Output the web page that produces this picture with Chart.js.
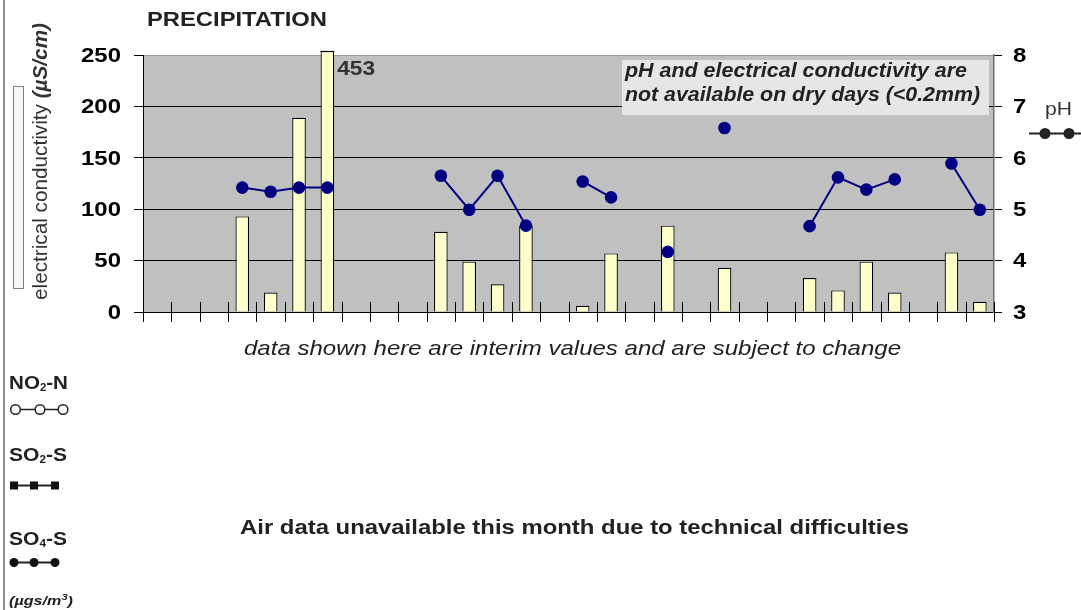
<!DOCTYPE html>
<html><head><meta charset="utf-8">
<script src="https://cdn.jsdelivr.net/npm/chart.js@4.4.0/dist/chart.umd.min.js"></script>
<style>html,body{margin:0;padding:0;background:#fff;}#wrap{position:relative;width:1081px;height:610px;}</style>
</head><body><div id="wrap"><canvas id="c" width="1081" height="610"></canvas></div>
<script>
// ---- data ----
const days = ['1','2','3','4','5','6','7','8','9','10','11','12','13','14','15','16','17','18','19','20','21','22','23','24','25','26','27','28','29','30'];
const conductivity = [null,null,null,93,19,189,453,null,null,null,78,49,27,84,null,6,57,null,84,null,43,null,null,33,21,49,19,null,58,10];
const pH = [null,null,null,5.42,5.34,5.42,5.42,null,null,null,5.65,4.99,5.65,4.68,null,5.54,5.23,null,4.17,null,6.58,null,null,4.67,5.62,5.38,5.58,null,5.89,4.99];
const ecTicks = [0,50,100,150,200,250];
const phTicks = [3,4,5,6,7,8];
const titleText = 'PRECIPITATION';
const ecTitle = ['electrical conductivity ', '(\u00b5S/cm)'];
const noteLines = ['pH and electrical conductivity are', 'not available on dry days (<0.2mm)'];
const interimText = 'data shown here are interim values and are subject to change';
const airText = 'Air data unavailable this month due to technical difficulties';

const FF = '"Liberation Sans", Arial, sans-serif';
const SX = 1.14;

function drawText(ctx, s, x, y, font, color, align, targetW) {
  ctx.save(); ctx.font = font; ctx.fillStyle = color; ctx.textBaseline = 'middle'; ctx.textAlign = 'left';
  const w = ctx.measureText(s).width; const k = targetW ? targetW / w : SX; const W = w * k;
  const left = align === 'center' ? x - W / 2 : align === 'right' ? x - W : x;
  ctx.translate(left, y); ctx.scale(k, 1); ctx.fillText(s, 0, 0); ctx.restore();
}
function drawRich(ctx, segs, x, y, color, targetW) {
  ctx.save(); ctx.fillStyle = color; ctx.textBaseline = 'middle'; ctx.textAlign = 'left';
  let w = 0; segs.forEach(s => { ctx.font = s.font; s.w = ctx.measureText(s.t).width; w += s.w; });
  const k = targetW ? targetW / w : SX;
  ctx.translate(x, y); ctx.scale(k, 1);
  let cx = 0; segs.forEach(s => { ctx.font = s.font; ctx.fillText(s.t, cx, s.dy || 0); cx += s.w; });
  ctx.restore();
}

const decor = {
  id: 'decor',
  beforeDraw(chart) {
    const {ctx, chartArea: a} = chart;
    ctx.save(); ctx.fillStyle = '#c0c0c0'; ctx.fillRect(a.left, a.top, a.right - a.left, a.bottom - a.top); ctx.restore();
  },
  afterDatasetsDraw(chart) {
    const {ctx, chartArea: a} = chart;
    const ys = chart.scales.y, xs = chart.scales.x;
    const meta = chart.getDatasetMeta(0);
    ctx.save();
    meta.data.forEach((bar, i) => {
      const v = conductivity[i];
      if (v != null && v > ys.max) {
        ctx.strokeStyle = '#000'; ctx.lineWidth = 1.2;
        ctx.beginPath(); ctx.moveTo(bar.x - bar.width / 2, a.top - 3.5); ctx.lineTo(bar.x + bar.width / 2, a.top - 3.5); ctx.stroke();
        drawText(ctx, String(v), bar.x + bar.width / 2 + 3, a.top + 14, 'bold 20px ' + FF, '#333', 'left', 38);
      }
    });
    const half = (xs.getPixelForValue(1) - xs.getPixelForValue(0)) / 2;
    ctx.strokeStyle = '#000'; ctx.lineWidth = 1;
    for (let i = 0; i <= days.length; i++) {
      const x = Math.round(xs.getPixelForValue(i) - half) + 0.5;
      ctx.beginPath(); ctx.moveTo(x, a.bottom - 10); ctx.lineTo(x, a.bottom + 10); ctx.stroke();
    }
    ctx.restore();
  },
  afterDraw(chart) {
    const {ctx} = chart;
    const ys = chart.scales.y, y1 = chart.scales.y1;
    ys.ticks.forEach(t => drawText(ctx, String(t.value), 121, ys.getPixelForValue(t.value) + 1, 'bold 21px ' + FF, '#000', 'right'));
    y1.ticks.forEach(t => drawText(ctx, String(t.value), 1013, y1.getPixelForValue(t.value) + 1, 'bold 21px ' + FF, '#000', 'left'));
    drawText(ctx, titleText, 147, 20, 'bold 20px ' + FF, '#222', 'left', 180);
    ctx.save(); ctx.translate(47, 161.5); ctx.rotate(-Math.PI / 2);
    ctx.font = '20px ' + FF; const w1 = ctx.measureText(ecTitle[0]).width;
    ctx.font = 'italic bold 20px ' + FF; const w2 = ctx.measureText(ecTitle[1]).width;
    const k = 277 / (w1 + w2);
    ctx.scale(k, 1); ctx.fillStyle = '#333'; ctx.textBaseline = 'alphabetic'; ctx.textAlign = 'left';
    const st = -(w1 + w2) / 2;
    ctx.font = '20px ' + FF; ctx.fillText(ecTitle[0], st, 0);
    ctx.font = 'italic bold 20px ' + FF; ctx.fillText(ecTitle[1], st + w1, 0);
    ctx.restore();
    ctx.save(); ctx.fillStyle = '#f6f6f6'; ctx.strokeStyle = '#808080'; ctx.lineWidth = 1;
    ctx.fillRect(13.5, 86.5, 10, 202); ctx.strokeRect(13.5, 86.5, 10, 202); ctx.restore();
    ctx.save(); ctx.strokeStyle = '#444'; ctx.lineWidth = 1.2; ctx.beginPath(); ctx.moveTo(4, 0); ctx.lineTo(4, 610); ctx.stroke(); ctx.restore();
    ctx.save(); ctx.fillStyle = '#e6e6e8'; ctx.fillRect(622, 60, 367, 55); ctx.restore();
    drawText(ctx, noteLines[0], 625, 71, 'italic bold 20px ' + FF, '#222', 'left', 342);
    drawText(ctx, noteLines[1], 625, 95, 'italic bold 20px ' + FF, '#222', 'left', 355);
    drawText(ctx, 'pH', 1045, 110, '19px ' + FF, '#333', 'left', 27);
    ctx.save(); ctx.strokeStyle = '#222'; ctx.fillStyle = '#222'; ctx.lineWidth = 2;
    ctx.beginPath(); ctx.moveTo(1029, 133.5); ctx.lineTo(1081, 133.5); ctx.stroke();
    [1045, 1069].forEach(cx => { ctx.beginPath(); ctx.arc(cx, 133.5, 5.5, 0, Math.PI * 2); ctx.fill(); });
    ctx.restore();
    drawText(ctx, interimText, 572.5, 349, 'italic 21px ' + FF, '#222', 'center', 657);
    drawText(ctx, airText, 574.5, 528, 'bold 20px ' + FF, '#222', 'center', 669);
    const B = 'bold 18px ' + FF, S = 'bold 10px ' + FF;
    drawRich(ctx, [{t: 'NO', font: B}, {t: '2', font: S, dy: 4}, {t: '-N', font: B}], 9, 384, '#222', 59);
    drawRich(ctx, [{t: 'SO', font: B}, {t: '2', font: S, dy: 4}, {t: '-S', font: B}], 9, 456, '#222', 58);
    drawRich(ctx, [{t: 'SO', font: B}, {t: '4', font: S, dy: 4}, {t: '-S', font: B}], 9, 540, '#222', 58);
    drawRich(ctx, [{t: '(\u00b5gs/m', font: 'italic bold 13px ' + FF}, {t: '3', font: 'italic bold 9px ' + FF, dy: -3}, {t: ')', font: 'italic bold 13px ' + FF}], 9, 601, '#222', 64);
    ctx.save(); ctx.strokeStyle = '#222'; ctx.lineWidth = 1.5;
    ctx.beginPath(); ctx.moveTo(16, 409.5); ctx.lineTo(62, 409.5); ctx.stroke();
    ctx.fillStyle = '#fff';
    [15.5, 40, 63].forEach(cx => { ctx.beginPath(); ctx.arc(cx, 409.5, 4.8, 0, Math.PI * 2); ctx.fill(); ctx.stroke(); });
    ctx.fillStyle = '#111'; ctx.lineWidth = 2;
    ctx.beginPath(); ctx.moveTo(12, 485.5); ctx.lineTo(56, 485.5); ctx.stroke();
    [14, 34, 55].forEach(cx => ctx.fillRect(cx - 4, 481.5, 8, 8));
    ctx.beginPath(); ctx.moveTo(12, 562.5); ctx.lineTo(56, 562.5); ctx.stroke();
    [14, 34, 55].forEach(cx => { ctx.beginPath(); ctx.arc(cx, 562.5, 4.5, 0, Math.PI * 2); ctx.fill(); });
    ctx.restore();
  }
};

new Chart(document.getElementById('c'), {
  data: {
    labels: days,
    datasets: [
      { type: 'bar', data: conductivity, yAxisID: 'y', order: 2,
        backgroundColor: '#ffffcc', borderColor: '#000', borderWidth: 1.2,
        barPercentage: 0.48, categoryPercentage: 1.0,
        clip: {left: 0, top: 4, right: 0, bottom: 0} },
      { type: 'line', data: pH, yAxisID: 'y1', order: 1, spanGaps: false,
        borderColor: '#000080', borderWidth: 2, tension: 0,
        pointRadius: 6.3, pointBackgroundColor: '#000080', pointBorderWidth: 0, pointHoverRadius: 6.3 }
    ]
  },
  options: {
    responsive: false, animation: false, devicePixelRatio: 1,
    layout: { padding: { left: 143, right: 1081 - 994, top: 55, bottom: 610 - 312 } },
    plugins: { legend: { display: false }, tooltip: { enabled: false } },
    events: [],
    scales: {
      x: { type: 'category', display: false, offset: true },
      y: { position: 'left', min: 0, max: 250,
        afterBuildTicks: s => { s.ticks = ecTicks.map(v => ({value: v})); },
        afterFit: s => { s.width = 0; },
        ticks: { display: false },
        grid: { color: c => (c.tick && c.tick.value === 250) ? '#9a9a9a' : '#000', tickColor: '#000', tickLength: 9, lineWidth: 1 },
        border: { display: true, color: '#000', width: 1 } },
      y1: { position: 'right', min: 3, max: 8,
        afterBuildTicks: s => { s.ticks = phTicks.map(v => ({value: v})); },
        afterFit: s => { s.width = 0; },
        ticks: { display: false },
        grid: { drawOnChartArea: false, tickColor: '#000', tickLength: 8 },
        border: { display: true, color: '#6e6e6e', width: 1.5 } }
    }
  },
  plugins: [decor]
});
</script></body></html>
